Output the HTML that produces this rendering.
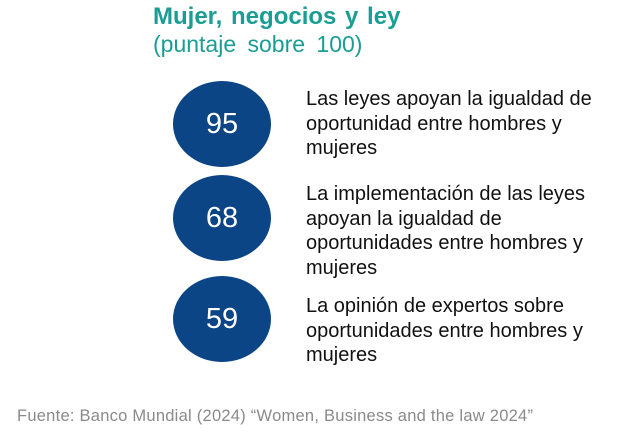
<!DOCTYPE html>
<html><head><meta charset="utf-8"><style>
body{margin:0;width:620px;height:437px;background:#fff;position:relative;overflow:hidden;font-family:"Liberation Sans",sans-serif}
.t{position:absolute;white-space:nowrap}
.ell{position:absolute;width:98px;height:86px;border-radius:50%;background:#0b4585;color:#fff;font-size:29px;display:flex;align-items:center;justify-content:center}
.d{position:absolute;left:306px;font-size:20px;line-height:24.5px;color:#111}
</style></head><body>
<div class="t" style="left:153px;top:3px;font-size:24px;font-weight:bold;color:#1a9e94;word-spacing:2px">Mujer, negocios y ley</div>
<div class="t" style="left:153px;top:31px;font-size:23px;color:#1a9e94;word-spacing:5px">(puntaje sobre 100)</div>
<div id="items"></div>
<div class="t" style="left:17px;top:407px;font-size:16.5px;color:#8a8a8a;letter-spacing:0.25px">Fuente: Banco Mundial (2024) “Women, Business and the law 2024”</div>
<script>
const scores=[95,68,59];
const labels=["Las leyes apoyan la igualdad de<br>oportunidad entre hombres y<br>mujeres","La implementación de las leyes<br>apoyan la igualdad de<br>oportunidades entre hombres y<br>mujeres","La opinión de expertos sobre<br>oportunidades entre hombres y<br>mujeres"];
const centers=[124,218,319],textTops=[87,182,294];
const box=document.getElementById('items');
scores.forEach((s,i)=>{
const e=document.createElement('div');e.className='ell';


e.style.left='173px';e.style.top=(centers[i]-43)+'px';e.textContent=s;box.appendChild(e);
const d=document.createElement('div');d.className='d';


d.style.top=textTops[i]+'px';d.innerHTML=labels[i];box.appendChild(d);
});
</script>
</body></html>
